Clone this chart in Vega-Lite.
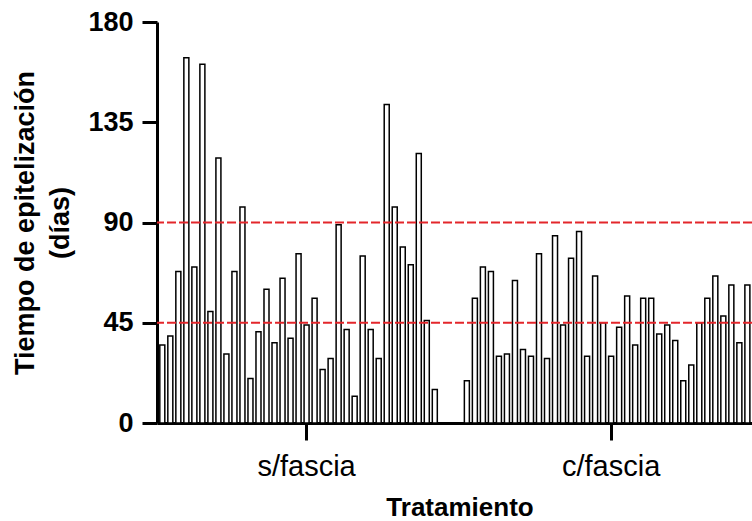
{
  "$schema": "https://vega.github.io/schema/vega-lite/v6.json",
  "width": 595,
  "height": 401,
  "autosize": {"type": "none"},
  "padding": {"left": 157, "top": 22, "right": 0, "bottom": 98},
  "background": "white",
  "config": {"view": {"stroke": null}, "font": "Liberation Sans"},
  "layer": [
    {
      "data": {"values": [
        {"grupo": "s/fascia", "id": "s1", "dias": 35},
        {"grupo": "s/fascia", "id": "s2", "dias": 39},
        {"grupo": "s/fascia", "id": "s3", "dias": 68},
        {"grupo": "s/fascia", "id": "s4", "dias": 164},
        {"grupo": "s/fascia", "id": "s5", "dias": 70},
        {"grupo": "s/fascia", "id": "s6", "dias": 161},
        {"grupo": "s/fascia", "id": "s7", "dias": 50},
        {"grupo": "s/fascia", "id": "s8", "dias": 119},
        {"grupo": "s/fascia", "id": "s9", "dias": 31},
        {"grupo": "s/fascia", "id": "s10", "dias": 68},
        {"grupo": "s/fascia", "id": "s11", "dias": 97},
        {"grupo": "s/fascia", "id": "s12", "dias": 20},
        {"grupo": "s/fascia", "id": "s13", "dias": 41},
        {"grupo": "s/fascia", "id": "s14", "dias": 60},
        {"grupo": "s/fascia", "id": "s15", "dias": 36},
        {"grupo": "s/fascia", "id": "s16", "dias": 65},
        {"grupo": "s/fascia", "id": "s17", "dias": 38},
        {"grupo": "s/fascia", "id": "s18", "dias": 76},
        {"grupo": "s/fascia", "id": "s19", "dias": 44},
        {"grupo": "s/fascia", "id": "s20", "dias": 56},
        {"grupo": "s/fascia", "id": "s21", "dias": 24},
        {"grupo": "s/fascia", "id": "s22", "dias": 29},
        {"grupo": "s/fascia", "id": "s23", "dias": 89},
        {"grupo": "s/fascia", "id": "s24", "dias": 42},
        {"grupo": "s/fascia", "id": "s25", "dias": 12},
        {"grupo": "s/fascia", "id": "s26", "dias": 75},
        {"grupo": "s/fascia", "id": "s27", "dias": 42},
        {"grupo": "s/fascia", "id": "s28", "dias": 29},
        {"grupo": "s/fascia", "id": "s29", "dias": 143},
        {"grupo": "s/fascia", "id": "s30", "dias": 97},
        {"grupo": "s/fascia", "id": "s31", "dias": 79},
        {"grupo": "s/fascia", "id": "s32", "dias": 71},
        {"grupo": "s/fascia", "id": "s33", "dias": 121},
        {"grupo": "s/fascia", "id": "s34", "dias": 46},
        {"grupo": "s/fascia", "id": "s35", "dias": 15},
        {"grupo": "c/fascia", "id": "c1", "dias": 19},
        {"grupo": "c/fascia", "id": "c2", "dias": 56},
        {"grupo": "c/fascia", "id": "c3", "dias": 70},
        {"grupo": "c/fascia", "id": "c4", "dias": 68},
        {"grupo": "c/fascia", "id": "c5", "dias": 30},
        {"grupo": "c/fascia", "id": "c6", "dias": 31},
        {"grupo": "c/fascia", "id": "c7", "dias": 64},
        {"grupo": "c/fascia", "id": "c8", "dias": 33},
        {"grupo": "c/fascia", "id": "c9", "dias": 30},
        {"grupo": "c/fascia", "id": "c10", "dias": 76},
        {"grupo": "c/fascia", "id": "c11", "dias": 29},
        {"grupo": "c/fascia", "id": "c12", "dias": 84},
        {"grupo": "c/fascia", "id": "c13", "dias": 44},
        {"grupo": "c/fascia", "id": "c14", "dias": 74},
        {"grupo": "c/fascia", "id": "c15", "dias": 86},
        {"grupo": "c/fascia", "id": "c16", "dias": 30},
        {"grupo": "c/fascia", "id": "c17", "dias": 66},
        {"grupo": "c/fascia", "id": "c18", "dias": 45},
        {"grupo": "c/fascia", "id": "c19", "dias": 30},
        {"grupo": "c/fascia", "id": "c20", "dias": 43},
        {"grupo": "c/fascia", "id": "c21", "dias": 57},
        {"grupo": "c/fascia", "id": "c22", "dias": 35},
        {"grupo": "c/fascia", "id": "c23", "dias": 56},
        {"grupo": "c/fascia", "id": "c24", "dias": 56},
        {"grupo": "c/fascia", "id": "c25", "dias": 40},
        {"grupo": "c/fascia", "id": "c26", "dias": 44},
        {"grupo": "c/fascia", "id": "c27", "dias": 37},
        {"grupo": "c/fascia", "id": "c28", "dias": 19},
        {"grupo": "c/fascia", "id": "c29", "dias": 26},
        {"grupo": "c/fascia", "id": "c30", "dias": 45},
        {"grupo": "c/fascia", "id": "c31", "dias": 56},
        {"grupo": "c/fascia", "id": "c32", "dias": 66},
        {"grupo": "c/fascia", "id": "c33", "dias": 48},
        {"grupo": "c/fascia", "id": "c34", "dias": 62},
        {"grupo": "c/fascia", "id": "c35", "dias": 36},
        {"grupo": "c/fascia", "id": "c36", "dias": 62}
      ]},
      "mark": {"type": "bar", "fill": "white", "stroke": "black", "strokeWidth": 1.5},
      "encoding": {
        "x": {
          "field": "id",
          "type": "nominal",
          "sort": null,
          "scale": {
            "domain": ["s1","s2","s3","s4","s5","s6","s7","s8","s9","s10","s11","s12","s13","s14","s15","s16","s17","s18","s19","s20","s21","s22","s23","s24","s25","s26","s27","s28","s29","s30","s31","s32","s33","s34","s35","s36","s37","g1","c1","c2","c3","c4","c5","c6","c7","c8","c9","c10","c11","c12","c13","c14","c15","c16","c17","c18","c19","c20","c21","c22","c23","c24","c25","c26","c27","c28","c29","c30","c31","c32","c33","c34","c35","c36","c37"],
            "range": [0, 603.7],
            "paddingInner": 0.375,
            "paddingOuter": 0.35
          },
          "axis": {
            "values": ["s19", "c19"],
            "labelExpr": "datum.value == 's19' ? 's/fascia' : 'c/fascia'",
            "labelAngle": 0,
            "labelFontSize": 29,
            "labelFontWeight": "normal",
            "labelColor": "black",
            "labelPadding": 12,
            "tickSize": 17,
            "tickWidth": 3,
            "tickColor": "black",
            "domainColor": "black",
            "domainWidth": 3,
            "grid": false,
            "title": "Tratamiento",
            "titleFontSize": 26,
            "titleFontWeight": "bold",
            "titleColor": "black",
            "titleBaseline": "alphabetic",
            "titleAlign": "center",
            "titleX": 302.5,
            "titleY": 92.5
          }
        },
        "y": {
          "field": "dias",
          "type": "quantitative",
          "scale": {"domain": [0, 180], "nice": false},
          "axis": {
            "values": [0, 45, 90, 135, 180],
            "labelFontSize": 27,
            "labelFontWeight": "bold",
            "labelColor": "black",
            "labelPadding": 9,
            "tickSize": 15,
            "tickWidth": 3,
            "tickColor": "black",
            "domainColor": "black",
            "domainWidth": 3,
            "grid": false,
            "title": ["Tiempo de epitelización", "(días)"],
            "titleFontSize": 27,
            "titleFontWeight": "bold",
            "titleColor": "black",
            "titleLineHeight": 35,
            "titleAngle": 270,
            "titleBaseline": "alphabetic",
            "titleAlign": "center",
            "titleX": -124,
            "titleY": 200.5
          }
        }
      }
    },
    {
      "data": {"values": [{"umbral": 45}, {"umbral": 90}]},
      "mark": {"type": "rule", "color": "#e3262b", "strokeDash": [9, 3], "strokeWidth": 2},
      "encoding": {
        "y": {"field": "umbral", "type": "quantitative"}
      }
    }
  ]
}
